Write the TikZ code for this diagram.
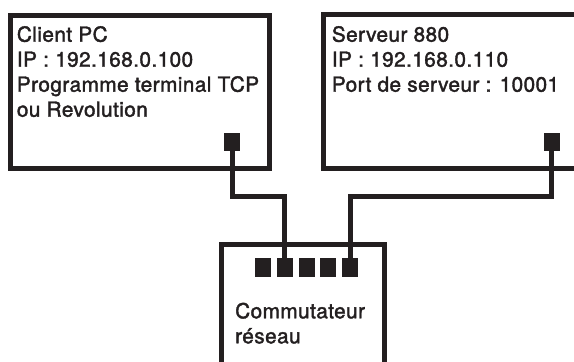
\documentclass[tikz,border=0pt]{standalone}
\usepackage{fontspec}
\setmainfont{TeX Gyre Heros}[FakeBold=1.8,LetterSpace=2]
\definecolor{ink}{RGB}{35,31,32}
\begin{document}
\begin{tikzpicture}[x=1pt,y=-1pt,
  box/.style={draw=ink,line width=5pt,inner sep=0pt},
  port/.style={fill=ink,draw=none,minimum width=15.7pt,minimum height=18pt,inner sep=0pt},
  wire/.style={draw=ink,line width=5pt},
  lbl/.style={anchor=base west,inner sep=0pt,text=ink,font=\fontsize{20.8}{25}\selectfont}]
\useasboundingbox (0,0) rectangle (574,362);
% boxes
\node[box,minimum width=258.7pt,minimum height=152.7pt] (client) at (140.15,92.15) {};
\node[box,minimum width=276.8pt,minimum height=153.2pt] (server) at (461.6,91.4) {};
\node[box,minimum width=162.5pt,minimum height=140pt] (switch) at (302.95,314.8) {};
% ports
\node[port] (cport) at (232.2,141.7) {};
\node[port] (sport) at (551.7,141.7) {};
\foreach \i/\x in {1/263,2/284.75,3/306.5,4/328.25,5/350.3}
  \node[port,minimum width=16pt,minimum height=18.4pt] (sw\i) at (\x,267.5) {};
% wires
\draw[wire] (cport.south) -- ++(0,45.8) -| (sw2.north);
\draw[wire] (sport.south) -- ++(0,45.8) -| (sw5.north);
% texts
\node[lbl] (c1) at (16.7,41.7) {Client PC};
\node[lbl] (c2) at (16.7,66.7) {IP : 192.168.0.100};
\node[lbl] (c3) at (16.7,91.7) {Programme terminal TCP};
\node[lbl] (c4) at (16.7,116.7) {ou Revolution};
\node[lbl] (s1) at (331.7,41.7) {Serveur 880};
\node[lbl] (s2) at (331.7,66.7) {IP : 192.168.0.110};
\node[lbl] (s3) at (331.7,91.7) {Port de serveur : 10001};
\node[lbl] (w1) at (235,318.3) {Commutateur};
\node[lbl] (w2) at (235,343.3) {réseau};
\end{tikzpicture}
\end{document}
